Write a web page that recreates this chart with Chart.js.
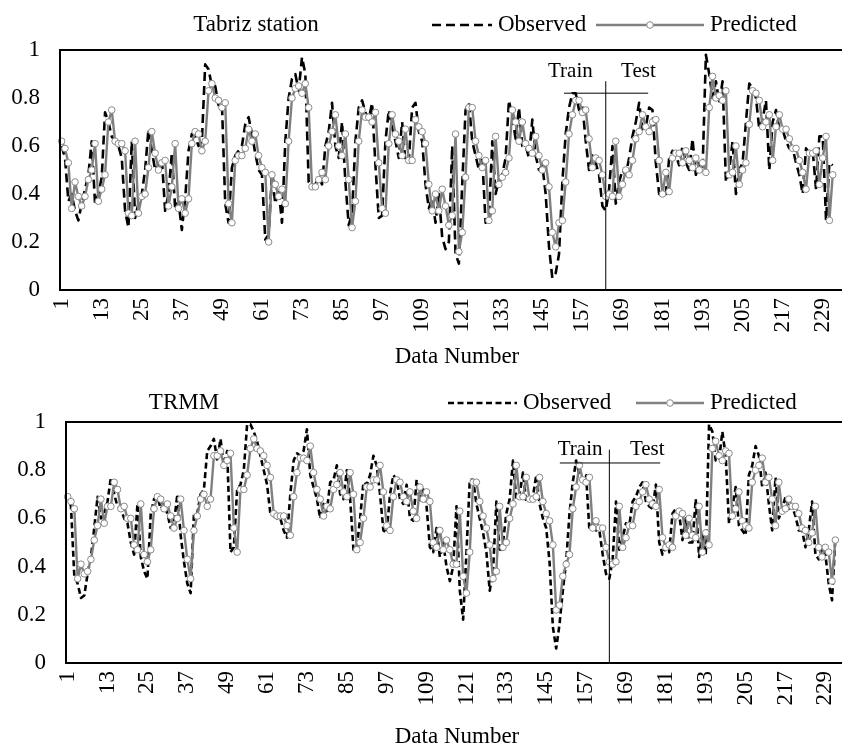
<!DOCTYPE html>
<html>
<head>
<meta charset="utf-8">
<script src="https://cdn.jsdelivr.net/npm/chart.js@4.4.0/dist/chart.umd.min.js"></script>
<style>
  html, body { margin: 0; padding: 0; background: #fff; }
  .panel { position: absolute; left: 0; width: 842px; height: 373px; }
</style>
</head>
<body>
<div class="panel" style="top:0"><canvas id="tabriz"></canvas></div>
<div class="panel" style="top:374px"><canvas id="trmm"></canvas></div>
<script>
// Data numbers 1..232 on the category axis
const dataNumbers = [];
for (let n = 1; n <= 232; n++) dataNumbers.push(String(n));

// Tabriz station
const tabrizObserved = [
  .60,.55,.37,.40,.33,.29,.36,.42,.48,.62, .36,.40,.47,.74,.70,.64,.62,.60,.55,.33,
  .26,.62,.30,.36,.40,.50,.67,.58,.50,.52, .55,.33,.40,.57,.34,.37,.25,.38,.58,.65,
  .64,.60,.62,.94,.92,.85,.85,.77,.78,.36, .28,.51,.56,.58,.60,.69,.72,.65,.57,.50,
  .48,.21,.23,.48,.36,.42,.28,.62,.80,.88, .90,.83,.97,.90,.45,.44,.44,.47,.44,.60,
  .66,.78,.60,.55,.70,.45,.27,.32,.62,.76, .79,.74,.71,.78,.52,.30,.31,.62,.75,.68,
  .62,.55,.70,.53,.54,.76,.78,.66,.62,.44, .34,.38,.28,.40,.22,.17,.20,.60,.15,.11,
  .44,.75,.78,.62,.56,.50,.55,.28,.30,.62, .40,.46,.48,.55,.79,.72,.63,.76,.60,.60,
  .55,.71,.56,.50,.52,.40,.18,.05,.07,.15, .45,.65,.76,.82,.82,.75,.77,.62,.50,.56,
  .53,.48,.35,.33,.42,.60,.36,.45,.50,.48, .55,.64,.70,.78,.67,.68,.76,.75,.53,.40,
  .39,.40,.55,.58,.56,.52,.60,.53,.50,.63, .48,.53,.50,.98,.90,.80,.87,.78,.87,.45,
  .50,.62,.40,.50,.53,.70,.86,.84,.80,.67, .71,.79,.50,.70,.75,.67,.67,.62,.59,.59,
  .53,.48,.40,.59,.57,.58,.42,.64,.64,.29, .53,.52
];
const tabrizPredicted = [
  .62,.59,.53,.34,.45,.39,.35,.39,.46,.50, .61,.37,.42,.48,.70,.75,.62,.61,.61,.58,
  .32,.31,.62,.32,.39,.40,.51,.66,.57,.50, .53,.54,.35,.43,.61,.34,.38,.32,.38,.61,
  .66,.65,.58,.62,.83,.86,.80,.79,.76,.78, .36,.28,.54,.56,.56,.59,.67,.62,.65,.56,
  .51,.49,.20,.48,.44,.39,.42,.36,.62,.80, .84,.85,.82,.86,.76,.43,.43,.46,.49,.46,
  .60,.66,.73,.60,.56,.65,.46,.26,.37,.62, .75,.72,.72,.70,.74,.53,.34,.32,.61,.73,
  .65,.62,.56,.67,.54,.54,.71,.68,.66,.61, .44,.33,.40,.33,.42,.35,.27,.31,.65,.16,
  .24,.47,.76,.76,.62,.56,.51,.54,.29,.33, .64,.44,.47,.49,.55,.75,.70,.62,.70,.61,
  .59,.57,.64,.56,.50,.53,.43,.24,.18,.28, .29,.45,.65,.73,.79,.79,.74,.75,.63,.51,
  .55,.54,.48,.39,.40,.39,.62,.39,.44,.50, .48,.54,.63,.66,.73,.68,.66,.70,.71,.54,
  .40,.49,.41,.55,.57,.57,.53,.58,.54,.51, .55,.50,.53,.49,.76,.89,.80,.81,.79,.83,
  .48,.49,.60,.44,.50,.53,.69,.83,.82,.79, .68,.70,.73,.54,.68,.73,.67,.67,.63,.59,
  .59,.54,.49,.42,.57,.57,.58,.44,.55,.64, .29,.48
];

// TRMM
const trmmObserved = [
  .70,.65,.36,.33,.27,.28,.37,.44,.56,.69, .60,.62,.67,.77,.70,.65,.64,.60,.58,.50,
  .45,.66,.44,.38,.35,.62,.68,.69,.64,.66, .62,.56,.58,.70,.53,.42,.33,.29,.62,.62,
  .70,.72,.88,.90,.93,.84,.93,.82,.88,.46, .48,.72,.74,.80,.99,.99,.96,.92,.86,.80,
  .74,.62,.61,.60,.60,.55,.52,.70,.84,.87, .86,.88,.97,.78,.73,.68,.60,.66,.63,.75,
  .76,.82,.70,.68,.80,.68,.47,.48,.60,.75, .74,.78,.86,.82,.70,.55,.54,.70,.78,.76,
  .68,.66,.74,.60,.59,.76,.67,.72,.65,.48, .46,.56,.44,.50,.40,.34,.40,.65,.30,.18,
  .46,.76,.76,.66,.60,.54,.46,.30,.38,.67, .46,.50,.62,.68,.84,.68,.70,.79,.67,.68,
  .69,.78,.66,.60,.56,.42,.15,.06,.16,.30, .42,.62,.75,.84,.78,.76,.78,.55,.58,.55,
  .55,.45,.37,.35,.43,.67,.47,.52,.58,.57, .67,.69,.73,.75,.67,.65,.64,.74,.50,.45,
  .48,.46,.62,.64,.62,.51,.60,.50,.50,.68, .44,.54,.45,.99,.96,.84,.84,.96,.86,.58,
  .64,.73,.57,.55,.53,.78,.82,.90,.86,.73, .79,.66,.55,.77,.60,.64,.69,.64,.65,.61,
  .55,.55,.48,.55,.67,.45,.43,.48,.45,.33, .26,.52
];
const trmmPredicted = [
  .69,.67,.64,.35,.41,.37,.38,.43,.51,.57, .68,.58,.65,.65,.75,.72,.64,.65,.60,.60,
  .49,.47,.66,.45,.42,.47,.64,.69,.68,.64, .66,.61,.56,.60,.68,.55,.43,.35,.55,.61,
  .68,.70,.65,.68,.86,.86,.88,.82,.84,.87, .56,.46,.72,.72,.78,.89,.93,.89,.88,.86,
  .82,.77,.62,.61,.61,.61,.57,.53,.69,.79, .85,.85,.84,.90,.79,.72,.68,.61,.65,.64,
  .72,.74,.79,.71,.69,.79,.70,.47,.50,.60, .73,.73,.76,.76,.82,.71,.57,.55,.69,.76,
  .75,.69,.67,.71,.63,.60,.73,.68,.71,.67, .50,.48,.55,.47,.51,.47,.41,.41,.63,.36,
  .29,.46,.75,.75,.67,.61,.56,.49,.35,.38, .65,.48,.50,.60,.66,.82,.69,.69,.77,.68,
  .68,.69,.77,.67,.62,.59,.49,.22,.24,.36, .41,.45,.64,.73,.82,.76,.75,.77,.56,.59,
  .56,.56,.48,.42,.41,.42,.65,.48,.52,.57, .57,.65,.67,.71,.74,.68,.66,.65,.72,.52,
  .48,.49,.48,.61,.63,.62,.53,.60,.53,.52, .65,.46,.54,.49,.89,.92,.86,.84,.88,.87,
  .61,.64,.71,.59,.57,.56,.75,.80,.82,.85, .75,.77,.68,.57,.75,.63,.64,.68,.65,.65,
  .62,.56,.55,.50,.54,.65,.48,.44,.48,.46, .34,.51
];

const yTicks = [0, 0.2, 0.4, 0.6, 0.8, 1];

const SERIF = "'Liberation Serif', 'Times New Roman', serif";
const GRAY = '#808080';

// Train / Test annotation, in data-number and value units
const tabrizNotes = { split: 164, splitTop: 0.87, barY: 0.82, barFrom: 151.5, barTo: 176.7, textY: 0.91, trainAt: 153.4, testAt: 173.8 };
const trmmNotes   = { split: 164, splitTop: 0.885, barY: 0.83, barFrom: 149.1, barTo: 179.3, textY: 0.885, trainAt: 155.2, testAt: 175.4 };

// frame, train/test marks, legend and axis caption
const decorations = {
  id: 'decorations',
  afterDatasetsDraw(chart, args, o) {
    const { ctx, chartArea: a, scales: { x, y } } = chart;
    const px = n => x.getPixelForValue(n - 1);
    ctx.save();

    // plot frame (right side runs off the picture)
    ctx.strokeStyle = '#000';
    ctx.lineWidth = 2;
    ctx.beginPath();
    ctx.moveTo(chart.width + 4, a.top);
    ctx.lineTo(a.left, a.top);
    ctx.lineTo(a.left, a.bottom);
    ctx.lineTo(chart.width + 4, a.bottom);
    ctx.stroke();

    // train / test split
    const n = o.notes;
    ctx.lineWidth = 1;
    ctx.beginPath();
    ctx.moveTo(px(n.split), y.getPixelForValue(n.splitTop));
    ctx.lineTo(px(n.split), a.bottom);
    ctx.moveTo(px(n.barFrom), y.getPixelForValue(n.barY));
    ctx.lineTo(px(n.barTo), y.getPixelForValue(n.barY));
    ctx.stroke();
    ctx.fillStyle = '#000';
    ctx.font = '21px ' + SERIF;
    ctx.textAlign = 'center';
    ctx.textBaseline = 'middle';
    ctx.fillText('Train', px(n.trainAt), y.getPixelForValue(n.textY));
    ctx.fillText('Test', px(n.testAt), y.getPixelForValue(n.textY));

    // title and legend
    const lg = o.legend;
    ctx.font = '23px ' + SERIF;
    ctx.fillText(o.title, lg.titleX, lg.y);
    ctx.textAlign = 'left';
    const obs = chart.data.datasets[0];
    const pred = chart.data.datasets[1];
    ctx.strokeStyle = obs.borderColor;
    ctx.lineWidth = obs.borderWidth;
    ctx.setLineDash(obs.borderDash);
    ctx.beginPath();
    ctx.moveTo(lg.obsFrom, lg.y);
    ctx.lineTo(lg.obsTo, lg.y);
    ctx.stroke();
    ctx.setLineDash([]);
    ctx.fillText(obs.label, lg.obsTo + 6, lg.y);
    ctx.strokeStyle = pred.borderColor;
    ctx.lineWidth = pred.borderWidth;
    ctx.beginPath();
    ctx.moveTo(lg.predFrom, lg.y);
    ctx.lineTo(lg.predTo, lg.y);
    ctx.stroke();
    ctx.fillStyle = pred.pointBackgroundColor;
    ctx.strokeStyle = pred.pointBorderColor;
    ctx.lineWidth = 1;
    ctx.beginPath();
    ctx.arc((lg.predFrom + lg.predTo) / 2, lg.y, pred.pointRadius, 0, Math.PI * 2);
    ctx.fill();
    ctx.stroke();
    ctx.fillStyle = '#000';
    ctx.fillText(pred.label, lg.predTo + 6, lg.y);

    // axis caption
    ctx.textAlign = 'center';
    ctx.fillText('Data Number', o.captionX, o.captionY);
    ctx.restore();
  }
};

function noEdgePadding(s) {
  s.paddingLeft = 0;
  s.paddingRight = 0;
  s.paddingTop = 0;
  s.paddingBottom = 0;
}

function makePanel(id, cfg) {
  return new Chart(document.getElementById(id), {
    type: 'line',
    data: {
      labels: dataNumbers,
      datasets: [
        {
          label: 'Observed',
          data: cfg.observed,
          borderColor: '#000',
          borderWidth: 2.6,
          borderDash: cfg.dash,
          borderJoinStyle: 'round',
          pointRadius: 0,
          tension: 0,
          clip: false,
          order: 2
        },
        {
          label: 'Predicted',
          data: cfg.predicted,
          borderColor: GRAY,
          borderWidth: 2.4,
          borderJoinStyle: 'round',
          pointRadius: 3.3,
          pointBackgroundColor: '#fff',
          pointBorderColor: '#8a8a8a',
          pointBorderWidth: 1,
          tension: 0,
          order: 1
        }
      ]
    },
    options: {
      responsive: true,
      maintainAspectRatio: false,
      animation: false,
      events: [],
      layout: { padding: { top: cfg.top, right: cfg.right, left: 0, bottom: 0 } },
      plugins: {
        legend: { display: false },
        tooltip: { enabled: false },
        decorations: { notes: cfg.notes, title: cfg.title, legend: cfg.legend, captionX: cfg.captionX, captionY: cfg.captionY }
      },
      scales: {
        x: {
          type: 'category',
          offset: true,
          grid: { display: false, drawTicks: false },
          border: { display: false },
          ticks: {
            autoSkip: false,
            maxRotation: 90,
            minRotation: 90,
            padding: 8,
            color: '#000',
            font: { family: SERIF, size: 23 },
            callback: (v, i) => (i % 12 === 0 ? dataNumbers[i] : '')
          },
          afterFit: s => { s.height = cfg.axisHeight; noEdgePadding(s); }
        },
        y: {
          min: 0,
          max: 1,
          grid: { display: false, drawTicks: false },
          border: { display: false },
          afterBuildTicks: s => { s.ticks = yTicks.map(v => ({ value: v })); },
          ticks: {
            padding: 20,
            color: '#000',
            font: { family: SERIF, size: 23 },
            callback: v => String(+v.toFixed(1))
          },
          afterFit: s => { s.width = cfg.axisWidth; noEdgePadding(s); }
        }
      }
    },
    plugins: [decorations]
  });
}

makePanel('tabriz', {
  observed: tabrizObserved,
  predicted: tabrizPredicted,
  dash: [9, 5],
  top: 50, right: 7.6, axisWidth: 60, axisHeight: 83,
  notes: tabrizNotes,
  title: 'Tabriz station',
  legend: { y: 25, titleX: 256, obsFrom: 432, obsTo: 492, predFrom: 596, predTo: 704 },
  captionX: 457, captionY: 357
});

makePanel('trmm', {
  observed: trmmObserved,
  predicted: trmmPredicted,
  dash: [6, 3.5],
  top: 48, right: 1.6, axisWidth: 66, axisHeight: 84,
  notes: trmmNotes,
  title: 'TRMM',
  legend: { y: 29, titleX: 184, obsFrom: 448, obsTo: 517, predFrom: 636, predTo: 704 },
  captionX: 457, captionY: 363
});
</script>
</body>
</html>
